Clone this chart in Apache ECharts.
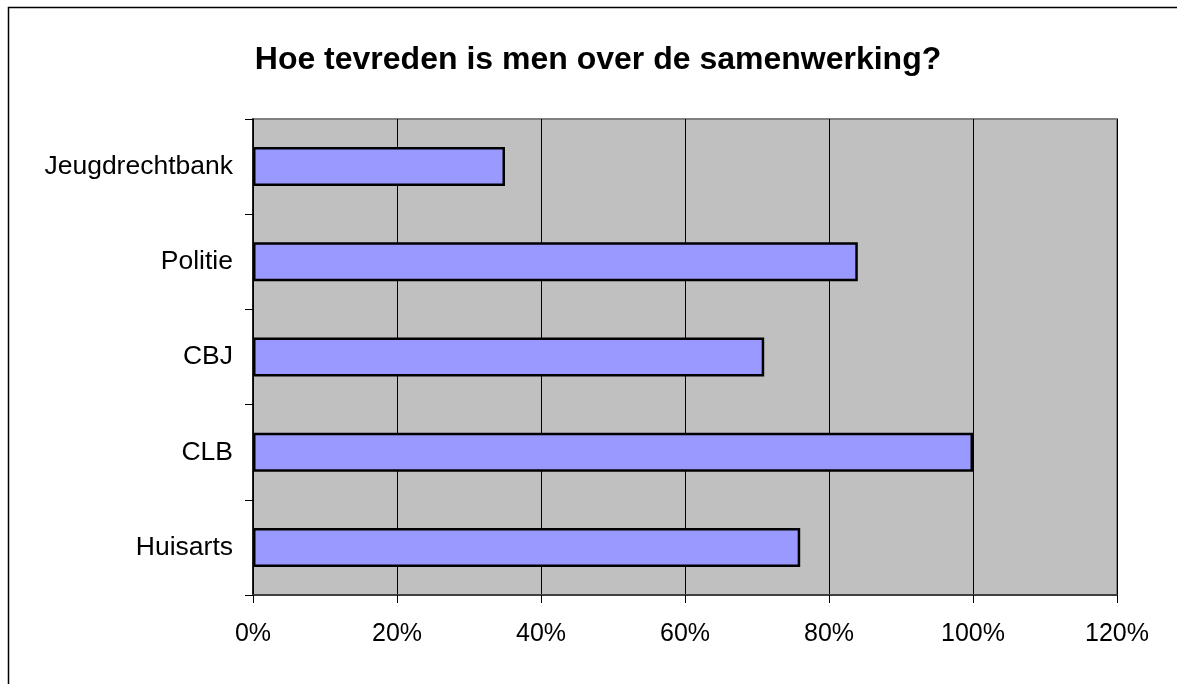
<!DOCTYPE html>
<html>
<head>
<meta charset="utf-8">
<script src="https://cdn.jsdelivr.net/npm/echarts@6/dist/echarts.min.js"></script>
<style>
  html, body { margin: 0; padding: 0; background: #fff; }
  #chart { width: 1177px; height: 684px; }
</style>
</head>
<body>
<div id="chart"></div>
<script>
const categories = ['Jeugdrechtbank', 'Politie', 'CBJ', 'CLB', 'Huisarts']
const values = [35, 84, 71, 100, 76]
const xTicks = [0, 20, 40, 60, 80, 100, 120]

const font = '"Liberation Sans", Arial, sans-serif'

const chart = echarts.init(document.getElementById('chart'))

chart.setOption({
  animation: false,
  backgroundColor: '#ffffff',
  textStyle: { fontFamily: font },
  title: {
    text: 'Hoe tevreden is men over de samenwerking?',
    left: 593,
    textAlign: 'center',
    top: 39,
    textStyle: {
      fontFamily: font,
      fontSize: 32,
      fontWeight: 'bold',
      color: '#000'
    }
  },
  graphic: [
    {
      type: 'rect',
      left: 6,
      top: 5,
      shape: { width: 1300, height: 800 },
      style: { fill: 'none', stroke: '#000', lineWidth: 1.5 },
      silent: true
    }
  ],
  grid: {
    left: 253,
    right: 60,
    top: 119,
    bottom: 89,
    show: true,
    backgroundColor: '#c0c0c0',
    borderColor: '#808080',
    borderWidth: 2
  },
  xAxis: {
    type: 'value',
    min: xTicks[0],
    max: xTicks[xTicks.length - 1],
    interval: 20,
    axisLine: { show: true, lineStyle: { color: '#404040', width: 2 } },
    axisTick: { show: true, length: 8, lineStyle: { color: '#000', width: 1 } },
    axisLabel: {
      margin: 27,
      fontSize: 25,
      color: '#000',
      fontFamily: font,
      formatter: v => v + '%'
    },
    splitLine: { show: true, lineStyle: { color: '#000', width: 1 } }
  },
  yAxis: {
    type: 'category',
    inverse: true,
    data: categories,
    axisLine: { show: true, lineStyle: { color: '#000', width: 1.5 } },
    axisTick: { show: true, length: 8, lineStyle: { color: '#000', width: 1 } },
    axisLabel: {
      margin: 20,
      fontSize: 26.5,
      color: '#000',
      fontFamily: font
    },
    splitLine: { show: false }
  },
  series: [
    {
      type: 'bar',
      data: values,
      barWidth: 39,
      itemStyle: {
        color: '#9999ff',
        borderColor: '#000',
        borderWidth: 2.5
      }
    }
  ]
})
</script>
</body>
</html>
